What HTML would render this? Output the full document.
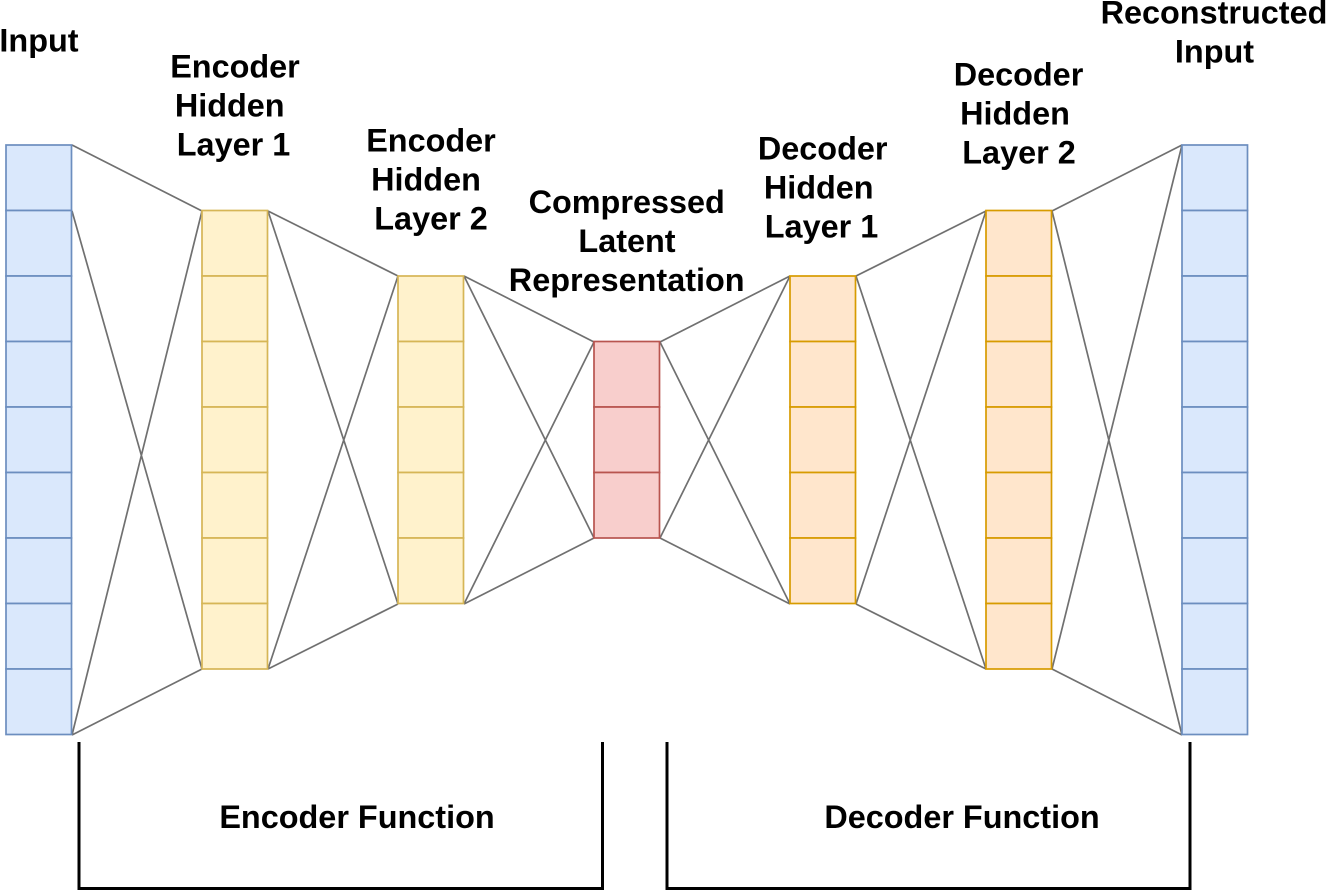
<!DOCTYPE html>
<html><head><meta charset="utf-8"><style>
html,body{margin:0;padding:0;background:#fff}
svg{display:block}
text{font-family:"Liberation Sans",sans-serif;font-weight:bold;font-size:32.4px;fill:#000;text-anchor:middle}
</style></head><body>
<svg width="1329" height="891" viewBox="0 0 1329 891" xmlns="http://www.w3.org/2000/svg">
<defs><filter id="b" filterUnits="userSpaceOnUse" x="0" y="0" width="1329" height="891"><feGaussianBlur stdDeviation="0.35"/></filter></defs>
<g filter="url(#b)">
<g stroke="#707070" stroke-width="1.7" fill="none">
<path d="M72 145L202 211M72 211L202 669M72 735L202 211M72 735L202 669"/>
<path d="M268 211L398 276M268 211L398 604M268 669L398 276M268 669L398 604"/>
<path d="M464 276L594 342M464 276L594 538M464 604L594 342M464 604L594 538"/>
<path d="M660 342L790 276M660 342L790 604M660 538L790 276M660 538L790 604"/>
<path d="M856 276L986 211M856 276L986 669M856 604L986 211M856 604L986 669"/>
<path d="M1052 211L1182 145M1052 211L1182 735M1052 669L1182 145M1052 669L1182 735"/>
</g>
<g stroke="#6c8ebf" stroke-width="1.7" fill="#dae8fc">
<rect x="6" y="145" width="65.500" height="65.500"/><rect x="6" y="210.500" width="65.500" height="65.500"/><rect x="6" y="276" width="65.500" height="65.500"/><rect x="6" y="341.500" width="65.500" height="65.500"/><rect x="6" y="407" width="65.500" height="65.500"/><rect x="6" y="472.500" width="65.500" height="65.500"/><rect x="6" y="538" width="65.500" height="65.500"/><rect x="6" y="603.500" width="65.500" height="65.500"/><rect x="6" y="669" width="65.500" height="65.500"/>
<rect x="1182" y="145" width="65.500" height="65.500"/><rect x="1182" y="210.500" width="65.500" height="65.500"/><rect x="1182" y="276" width="65.500" height="65.500"/><rect x="1182" y="341.500" width="65.500" height="65.500"/><rect x="1182" y="407" width="65.500" height="65.500"/><rect x="1182" y="472.500" width="65.500" height="65.500"/><rect x="1182" y="538" width="65.500" height="65.500"/><rect x="1182" y="603.500" width="65.500" height="65.500"/><rect x="1182" y="669" width="65.500" height="65.500"/>
</g>
<g stroke="#d6b656" stroke-width="1.7" fill="#fff2cc">
<rect x="202" y="210.500" width="65.500" height="65.500"/><rect x="202" y="276" width="65.500" height="65.500"/><rect x="202" y="341.500" width="65.500" height="65.500"/><rect x="202" y="407" width="65.500" height="65.500"/><rect x="202" y="472.500" width="65.500" height="65.500"/><rect x="202" y="538" width="65.500" height="65.500"/><rect x="202" y="603.500" width="65.500" height="65.500"/>
<rect x="398" y="276" width="65.500" height="65.500"/><rect x="398" y="341.500" width="65.500" height="65.500"/><rect x="398" y="407" width="65.500" height="65.500"/><rect x="398" y="472.500" width="65.500" height="65.500"/><rect x="398" y="538" width="65.500" height="65.500"/>
</g>
<g stroke="#b85450" stroke-width="1.7" fill="#f8cecc">
<rect x="594" y="341.500" width="65.500" height="65.500"/><rect x="594" y="407" width="65.500" height="65.500"/><rect x="594" y="472.500" width="65.500" height="65.500"/>
</g>
<g stroke="#d79b00" stroke-width="1.7" fill="#ffe6cc">
<rect x="790" y="276" width="65.500" height="65.500"/><rect x="790" y="341.500" width="65.500" height="65.500"/><rect x="790" y="407" width="65.500" height="65.500"/><rect x="790" y="472.500" width="65.500" height="65.500"/><rect x="790" y="538" width="65.500" height="65.500"/>
<rect x="986" y="210.500" width="65.500" height="65.500"/><rect x="986" y="276" width="65.500" height="65.500"/><rect x="986" y="341.500" width="65.500" height="65.500"/><rect x="986" y="407" width="65.500" height="65.500"/><rect x="986" y="472.500" width="65.500" height="65.500"/><rect x="986" y="538" width="65.500" height="65.500"/><rect x="986" y="603.500" width="65.500" height="65.500"/>
</g>
<g stroke="#000" stroke-width="3" fill="none">
<path d="M79 742V888.500H602.500V742"/>
<path d="M667 742V888.500H1190V742"/>
</g>
<text x="39" y="51.500">Input</text>
<text x="235" y="77.500">Encoder</text><text x="229.700" y="116.500">Hidden</text><text x="233.500" y="155.500">Layer 1</text>
<text x="431" y="151.500">Encoder</text><text x="426" y="190.500">Hidden</text><text x="431" y="229.500">Layer 2</text>
<text x="626.700" y="213">Compressed</text><text x="627" y="252">Latent</text><text x="626.700" y="291">Representation</text>
<text x="822.700" y="159.500">Decoder</text><text x="818.700" y="198.500">Hidden</text><text x="821.500" y="237.500">Layer 1</text>
<text x="1018.500" y="85.500">Decoder</text><text x="1015" y="124.500">Hidden</text><text x="1019" y="163.500">Layer 2</text>
<text x="1214" y="23.500">Reconstructed</text><text x="1214.500" y="62.500">Input</text>
<text x="357" y="828">Encoder Function</text>
<text x="962" y="828">Decoder Function</text>
</g>
</svg>
</body></html>
